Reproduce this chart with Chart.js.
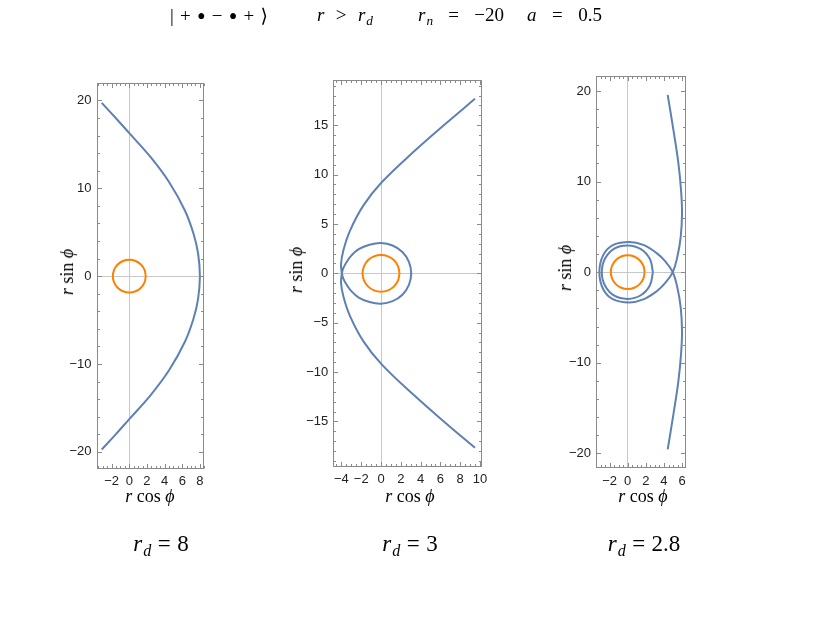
<!DOCTYPE html>
<html><head><meta charset="utf-8">
<script src="https://cdn.jsdelivr.net/npm/chart.js@4.4.1/dist/chart.umd.min.js"></script>
<style>
html,body{margin:0;padding:0;background:#fff;}
#wrap{position:relative;width:822px;height:617px;overflow:hidden;background:#fff;}
canvas{position:absolute;left:0;top:0;}
.tx{position:absolute;font-family:'Liberation Serif','DejaVu Serif',serif;color:#000;white-space:nowrap;line-height:1;}
.i{font-style:italic;}
.sb{font-size:0.7em;vertical-align:-0.3em;font-style:italic;margin-left:1px;}
.row{display:flex;justify-content:space-between;align-items:baseline;}
.c{transform:translate(-50%,-50%);}
.rot{transform:translate(-50%,-50%) rotate(-90deg);}
.op{margin:0 0.28em;}
.bl{font-size:1.3em;line-height:0.7;position:relative;top:0.11em;}
</style></head>
<body><div id="wrap">
<canvas id="c1" width="822" height="617"></canvas>
<canvas id="c2" width="822" height="617"></canvas>
<canvas id="c3" width="822" height="617"></canvas>

<div class="tx row" style="left:170px;width:98px;top:5px;font-size:19px"><span>|</span><span>+</span><span class="bl">•</span><span>−</span><span class="bl">•</span><span>+</span><span>⟩</span></div>
<div class="tx row" style="left:317px;width:56px;top:5px;font-size:19px"><span class="i">r</span><span>&gt;</span><span><span class="i">r</span><span class="sb">d</span></span></div>
<div class="tx row" style="left:418px;width:86px;top:5px;font-size:19px"><span><span class="i">r</span><span class="sb">n</span></span><span>=</span><span>−20</span></div>
<div class="tx row" style="left:527px;width:75px;top:5px;font-size:19px"><span class="i">a</span><span>=</span><span>0.5</span></div>

<div class="tx c" style="left:150px;top:496px;font-size:18px"><span class="i">r</span> cos <span class="i">ϕ</span></div>
<div class="tx c" style="left:410px;top:496px;font-size:18px"><span class="i">r</span> cos <span class="i">ϕ</span></div>
<div class="tx c" style="left:643px;top:496px;font-size:18px"><span class="i">r</span> cos <span class="i">ϕ</span></div>

<div class="tx rot" style="left:67px;top:272px;font-size:18px"><span class="i">r</span> sin <span class="i">ϕ</span></div>
<div class="tx rot" style="left:296px;top:270px;font-size:18px"><span class="i">r</span> sin <span class="i">ϕ</span></div>
<div class="tx rot" style="left:565px;top:268px;font-size:18px"><span class="i">r</span> sin <span class="i">ϕ</span></div>

<div class="tx c" style="left:161px;top:545px;font-size:23px"><span class="i">r</span><span class="sb">d</span><span class="op">=</span>8</div>
<div class="tx c" style="left:410px;top:545px;font-size:23px"><span class="i">r</span><span class="sb">d</span><span class="op">=</span>3</div>
<div class="tx c" style="left:644px;top:545px;font-size:23px"><span class="i">r</span><span class="sb">d</span><span class="op">=</span>2.8</div>
</div>
<script>
// ---- data ----
const horizonX = [1.866,1.724,1.319,0.714,0,-0.714,-1.319,-1.724,-1.866,-1.724,-1.319,-0.714,0,0.714,1.319,1.724,1.866];
const horizonY = [0,0.714,1.319,1.724,1.866,1.724,1.319,0.714,0,-0.714,-1.319,-1.724,-1.866,-1.724,-1.319,-0.714,0];

const rd8X = [-3.13,-1.62,0,2.42,4.52,6.3,7.28,7.8,8.0,7.8,7.28,6.3,4.52,2.42,0,-1.62,-3.13];
const rd8Y = [19.73,18.09,16.27,13.54,10.69,7.47,4.82,2.55,0,-2.55,-4.82,-7.47,-10.69,-13.54,-16.27,-18.09,-19.73];

const rd3X = [9.49,6.46,3.43,0.07,-1.79,-3.13,-3.81,-4.04,-3.95,
  -3.82,-3.5,-3.0,-2.25,-1.17,0,1.17,2.16,2.82,3.05,
  2.82,2.16,1.17,0,-1.17,-2.25,-3.0,-3.5,-3.82,-3.95,
  -4.04,-3.81,-3.13,-1.79,0.07,3.43,6.46,9.49];
const rd3Y = [17.67,15.1,12.43,9.22,6.86,4.33,2.3,0.95,0,
  -0.5,-1.1,-1.8,-2.45,-2.9,-3.07,-2.82,-2.16,-1.17,0,
  1.17,2.16,2.82,3.07,2.9,2.45,1.8,1.1,0.5,0,
  -0.95,-2.3,-4.33,-6.86,-9.22,-12.43,-15.1,-17.67];

const rd28OuterX = [4.41,5.04,5.59,5.88,5.99,5.85,5.48,4.97,
  4.12,3.2,1.72,0.18,-1.59,-2.69,-3.13,
  -2.69,-1.59,0.18,1.72,3.2,4.12,
  4.97,5.48,5.85,5.99,5.88,5.59,5.04,4.41];
const rd28OuterY = [19.57,15.7,12.03,9.08,6.51,3.93,1.72,0,
  -1.21,-2.1,-3.01,-3.34,-3.01,-1.91,0,
  1.91,3.01,3.34,3.01,2.1,1.21,
  0,-1.72,-3.93,-6.51,-9.08,-12.03,-15.7,-19.57];
const rd28InnerX = [2.78,2.45,1.45,0,-1.48,-2.5,-2.86,-2.5,-1.48,0,1.45,2.45,2.78];
const rd28InnerY = [0,1.45,2.55,2.95,2.6,1.5,0,-1.5,-2.6,-2.95,-2.55,-1.45,0];

// tick labels
const xTicks8 = [-2,0,2,4,6,8];
const yTicks8 = [-20,-10,0,10,20];
const xTicks3 = [-4,-2,0,2,4,6,8,10];
const yTicks3 = [-15,-10,-5,0,5,10,15];
const xTicks28 = [-2,0,2,4,6];
const yTicks28 = [-20,-10,0,10,20];

// ---- drawing ----
const BLUE = '#5E81B5', ORANGE = '#FF8000';
const W = 822, H = 617, YW = 40, XH = 30;
const pts = (xs, ys) => xs.map((x, i) => ({x: x, y: ys[i]}));
const fmt = v => v < 0 ? '\u2212' + Math.abs(v) : String(v);

const frameTicks = {
  id: 'frameTicks',
  afterDatasetsDraw(chart, args, o) {
    const ctx = chart.ctx, a = chart.chartArea, xs = chart.scales.x, ys = chart.scales.y;
    const L = Math.round(a.left) + 0.5, R = Math.round(a.right) - 0.5;
    const T = Math.round(a.top) + 0.5, B = Math.round(a.bottom) - 0.5;
    ctx.save();
    ctx.strokeStyle = '#8a8a8a';
    ctx.lineWidth = 1;
    const ln = (x1, y1, x2, y2) => { ctx.beginPath(); ctx.moveTo(x1, y1); ctx.lineTo(x2, y2); ctx.stroke(); };
    const major = 4.5, minor = 2.5;
    const doX = (v, len) => { const p = Math.round(xs.getPixelForValue(v)) + 0.5; ln(p, B, p, B - len); ln(p, T, p, T + len); };
    const doY = (v, len) => { const p = Math.round(ys.getPixelForValue(v)) + 0.5; ln(L, p, L + len, p); ln(R, p, R - len, p); };
    const xMaj = xs.ticks.map(t => t.value), yMaj = ys.ticks.map(t => t.value);
    for (let k = Math.ceil(xs.min / o.xMinor); k * o.xMinor <= xs.max; k++) {
      const v = k * o.xMinor;
      if (!xMaj.some(m => Math.abs(m - v) < 1e-9)) doX(v, minor);
    }
    for (let k = Math.ceil(ys.min / o.yMinor); k * o.yMinor <= ys.max; k++) {
      const v = k * o.yMinor;
      if (!yMaj.some(m => Math.abs(m - v) < 1e-9)) doY(v, minor);
    }
    xMaj.forEach(v => doX(v, major));
    yMaj.forEach(v => doY(v, major));
    ctx.strokeRect(L, T, R - L, B - T);
    ctx.restore();
  }
};

function panel(id, frame, xr, yr, xt, yt, minors, datasets) {
  const zeroGrid = c => (c.tick && c.tick.value === 0) ? '#c8c8c8' : 'rgba(0,0,0,0)';
  const tickFont = {family: "'Liberation Sans', Arial, sans-serif", size: 13};
  new Chart(document.getElementById(id), {
    type: 'scatter',
    data: {datasets: datasets},
    options: {
      responsive: false, animation: false, devicePixelRatio: 1,
      layout: {padding: {left: frame.l - YW, top: frame.t, right: W - frame.r, bottom: H - frame.b - XH}},
      plugins: {legend: {display: false}, tooltip: {enabled: false}, frameTicks: minors},
      elements: {point: {radius: 0}},
      scales: {
        x: {
          type: 'linear', min: xr[0], max: xr[1],
          afterBuildTicks: s => { s.ticks = xt.map(v => ({value: v})); },
          afterFit: s => { s.height = XH; },
          grid: {color: zeroGrid, drawTicks: false, lineWidth: 1},
          border: {display: false},
          ticks: {font: tickFont, color: '#222', padding: 5, maxRotation: 0, minRotation: 0, autoSkip: false, callback: fmt}
        },
        y: {
          type: 'linear', min: yr[0], max: yr[1],
          afterBuildTicks: s => { s.ticks = yt.map(v => ({value: v})); },
          afterFit: s => { s.width = YW; },
          grid: {color: zeroGrid, drawTicks: false, lineWidth: 1},
          border: {display: false},
          ticks: {font: tickFont, color: '#222', padding: 5, autoSkip: false, callback: fmt}
        }
      }
    },
    plugins: [frameTicks]
  });
}

const line = (xs, ys, color) => ({data: pts(xs, ys), showLine: true, borderColor: color, backgroundColor: color,
  borderWidth: 2, pointRadius: 0, tension: 0.4, fill: false});

panel('c1', {l: 96.5, t: 83.3, r: 204.3, b: 469}, [-3.72, 8.5], [-21.95, 21.95], xTicks8, yTicks8,
  {xMinor: 0.5, yMinor: 2},
  [line(rd8X, rd8Y, BLUE), line(horizonX, horizonY, ORANGE)]);

panel('c2', {l: 333.3, t: 80, r: 481.5, b: 466.7}, [-4.82, 10.15], [-19.58, 19.58], xTicks3, yTicks3,
  {xMinor: 0.5, yMinor: 1},
  [line(rd3X, rd3Y, BLUE), line(horizonX, horizonY, ORANGE)]);

panel('c3', {l: 596, t: 76, r: 686, b: 468.3}, [-3.5, 6.43], [-21.65, 21.65], xTicks28, yTicks28,
  {xMinor: 0.5, yMinor: 2},
  [line(rd28OuterX, rd28OuterY, BLUE), line(rd28InnerX, rd28InnerY, BLUE), line(horizonX, horizonY, ORANGE)]);
</script>
</body></html>
